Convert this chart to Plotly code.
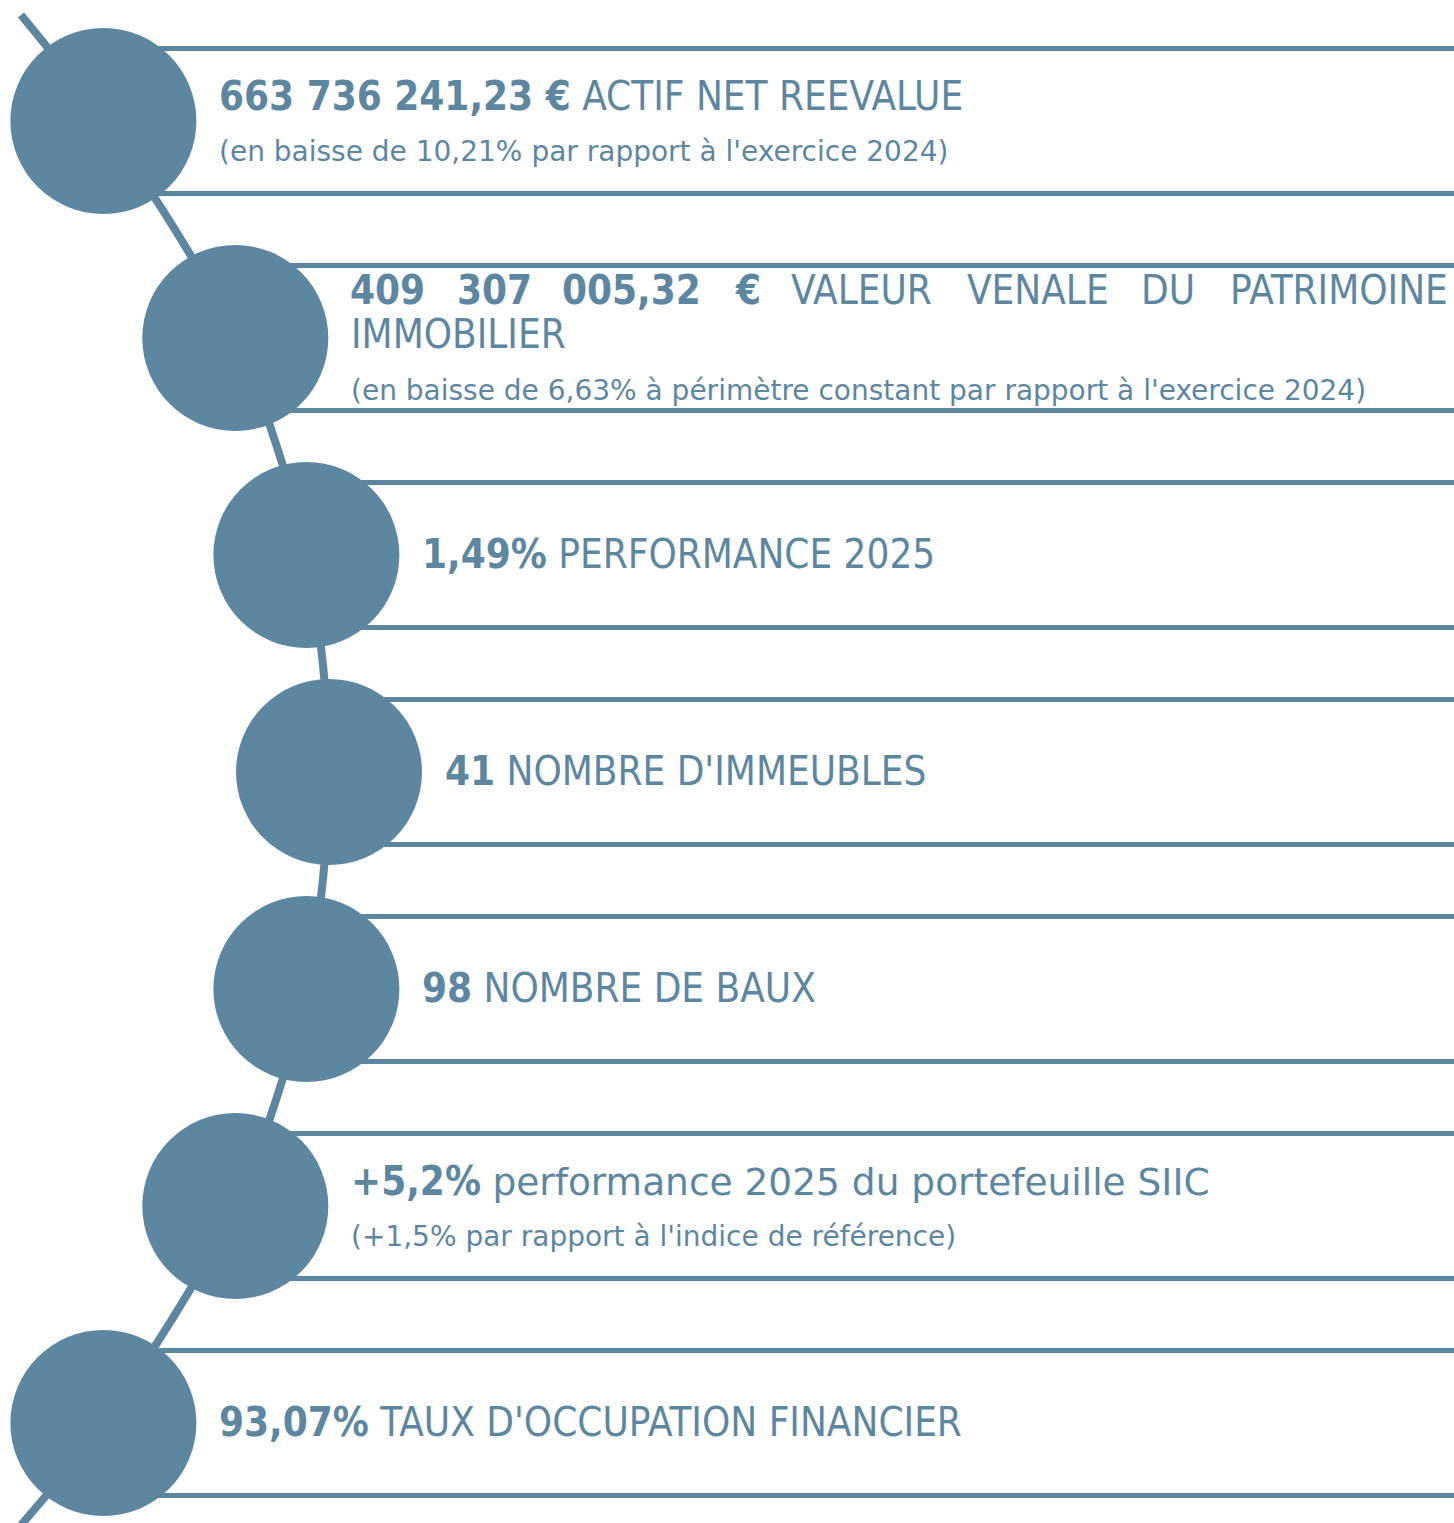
import plotly.graph_objects as go

# ---- data ----
values = ["663 736 241,23 €", "409 307 005,32 €", "1,49%", "41", "98", "+5,2%", "93,07%"]
labels = ["ACTIF NET REEVALUE", "VALEUR VENALE DU PATRIMOINE IMMOBILIER", "PERFORMANCE 2025",
          "NOMBRE D'IMMEUBLES", "NOMBRE DE BAUX", "performance 2025 du portefeuille SIIC",
          "TAUX D'OCCUPATION FINANCIER"]
notes = ["(en baisse de 10,21% par rapport à l'exercice 2024)",
         "(en baisse de 6,63% à périmètre constant par rapport à l'exercice 2024)",
         "", "", "", "(+1,5% par rapport à l'indice de référence)", ""]

# ---- style / geometry ----
W, H = 1454, 1523
COL = "#5D87A1"
MAIN_FONT = "DejaVu Sans Condensed"
SUB_FONT = "DejaVu Sans"
MAIN_SIZE = 40
SUB_SIZE = 28
ROW0, STEP = 121, 217
ARC_R, ARC_XMAX = 1052.0, 329.0
HALF_BAND = 72.5
RADIUS = 93
TEXT_DX = 115

n = len(values)
yc_mid = ROW0 + STEP * (n - 1) / 2
cy = [ROW0 + STEP * i for i in range(n)]
cx = [ARC_XMAX - ARC_R + (ARC_R ** 2 - (y - yc_mid) ** 2) ** 0.5 for y in cy]

fig = go.Figure()

# connector curve
conn_x = [21] + cx + [21]
conn_y = [15] + cy + [H + 2]
fig.add_trace(go.Scatter(x=conn_x, y=conn_y, mode="lines",
                         line=dict(color=COL, width=8, shape="spline", smoothing=0.9),
                         hoverinfo="skip", showlegend=False))

# horizontal band lines
lx, ly = [], []
for x0, y0 in zip(cx, cy):
    for dy in (-HALF_BAND, HALF_BAND):
        lx += [x0, W + 20, None]
        ly += [y0 + dy, y0 + dy, None]
fig.add_trace(go.Scatter(x=lx, y=ly, mode="lines", line=dict(color=COL, width=5),
                         hoverinfo="skip", showlegend=False))

# circles
fig.add_trace(go.Scatter(x=cx, y=cy, mode="markers",
                         marker=dict(size=2 * RADIUS, color=COL, line=dict(width=0)),
                         hoverinfo="skip", showlegend=False))

anns = []


def ann(x, y, text, size, family, xanchor="left"):
    anns.append(dict(x=x, y=y, xref="x", yref="y", text=text, showarrow=False, xanchor=xanchor,
                     yanchor="middle", font=dict(family=family, size=size, color=COL), borderpad=0))


for i in range(n):
    tx = cx[i] + TEXT_DX
    if i == 1:
        # justified first line
        words = values[i].split(" ") + labels[i].split(" ")[:-1]
        bold_count = len(values[i].split(" "))
        word_x = [349, 456, 561, 734, 790, 966, 1140]
        for k, w in enumerate(words[:-1]):
            t = f"<b>{w}</b>" if k < bold_count else w
            ann(word_x[k], cy[i] - 48, t, MAIN_SIZE, MAIN_FONT)
        ann(W - 5, cy[i] - 48, words[-1], MAIN_SIZE, MAIN_FONT, xanchor="right")
        ann(tx, cy[i] - 4, labels[i].split(" ")[-1], MAIN_SIZE, MAIN_FONT)
        ann(tx, cy[i] + 52, notes[i], SUB_SIZE, SUB_FONT)
    elif i == 5:
        lab = f"<span style='font-family:DejaVu Sans;font-size:37.5px'>{labels[i]}</span>"
        ann(tx, cy[i] - 25, f"<b>{values[i]}</b> {lab}", MAIN_SIZE, MAIN_FONT)
        ann(tx, cy[i] + 30, notes[i], SUB_SIZE, SUB_FONT)
    elif notes[i]:
        ann(tx, cy[i] - 25, f"<b>{values[i]}</b> {labels[i]}", MAIN_SIZE, MAIN_FONT)
        ann(tx, cy[i] + 30, notes[i], SUB_SIZE, SUB_FONT)
    else:
        ann(tx, cy[i] - 1, f"<b>{values[i]}</b> {labels[i]}", MAIN_SIZE, MAIN_FONT)

fig.update_layout(width=W, height=H, margin=dict(l=0, r=0, t=0, b=0),
                  annotations=anns,
                  xaxis=dict(range=[0, W], visible=False, fixedrange=True),
                  yaxis=dict(range=[H, 0], visible=False, fixedrange=True),
                  plot_bgcolor="white", paper_bgcolor="white", showlegend=False)
fig.write_html("out.html", config={"displayModeBar": False},
               post_script="document.body.style.margin='0';document.body.style.overflow='hidden';"
                           "document.documentElement.style.overflow='hidden';")
